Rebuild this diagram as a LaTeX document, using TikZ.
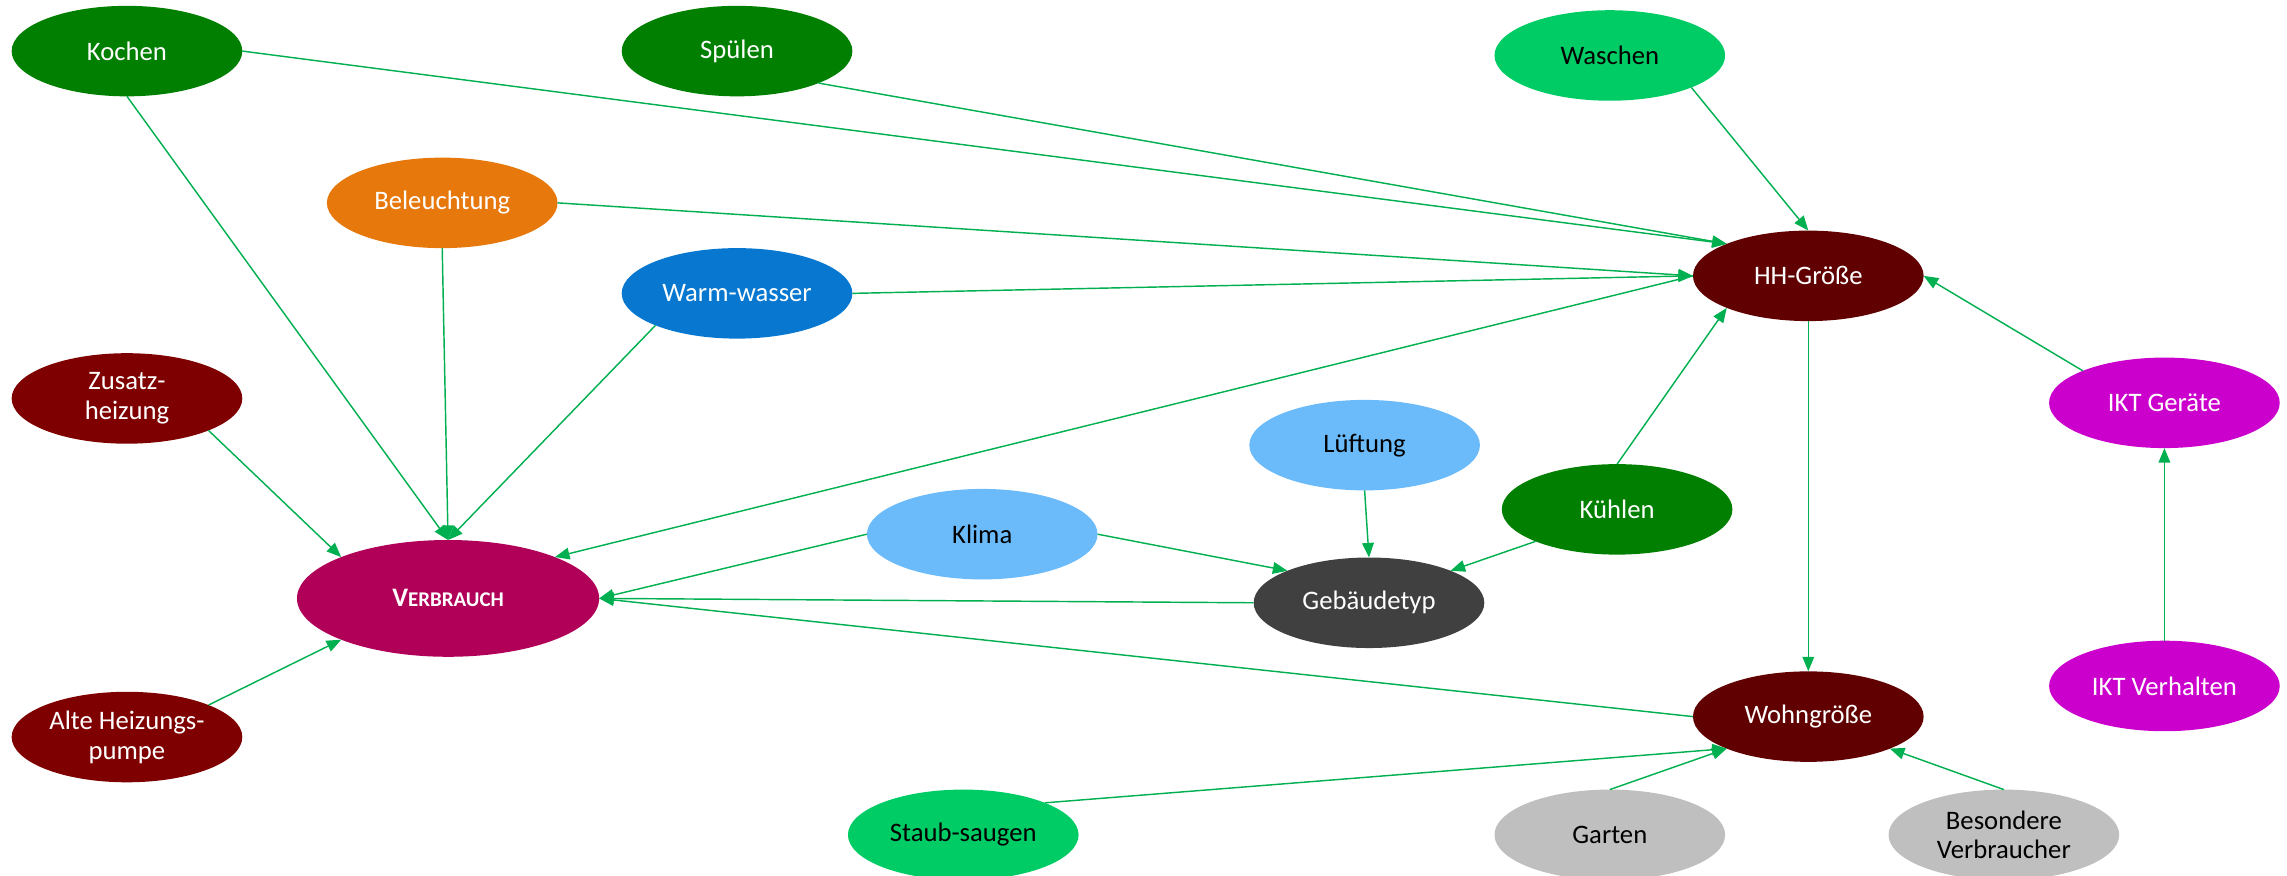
\documentclass[tikz,border=0pt]{standalone}
\usepackage{fontspec}
\setmainfont{Carlito}
\usepackage{xcolor}
\usepackage{tikz}
\usetikzlibrary{arrows.meta, positioning, shapes.geometric}

\definecolor{arrowgreen}{HTML}{00B050}
\definecolor{darkgreen}{HTML}{007F00}
\definecolor{lightgreen}{HTML}{00CC66}
\definecolor{orangeb}{HTML}{E7780B}
\definecolor{blueb}{HTML}{0777CF}
\definecolor{skyb}{HTML}{6BBBFB}
\definecolor{maroonb}{HTML}{7F0000}
\definecolor{brownb}{HTML}{600000}
\definecolor{berryb}{HTML}{B00058}
\definecolor{grayb}{HTML}{404040}
\definecolor{silverb}{HTML}{BFBFBF}
\definecolor{magentab}{HTML}{CC00CC}

\begin{document}
\begin{tikzpicture}[x=0.025cm, y=-0.025cm,
  bubble/.style={ellipse, minimum width=3.95cm, minimum height=1.55cm,
    inner sep=0pt, outer sep=0pt, align=center, text=white,
    font=\fontsize{13}{14.5}\selectfont},
  arr/.style={-{Triangle[length=0.25cm, width=0.2cm]}, draw=arrowgreen, line width=0.7pt}]
  \useasboundingbox (0,0) rectangle (1567,600);

  % Appliances and uses
  \node[bubble, fill=darkgreen] (kochen) at (87,35) {Kochen};
  \node[bubble, fill=darkgreen] (spuelen) at (505,35) {Spülen};
  \node[bubble, fill=lightgreen, text=black] (waschen) at (1103,38) {Waschen};
  \node[bubble, fill=orangeb] (licht) at (303,139) {Beleuchtung};
  \node[bubble, fill=blueb] (warmw) at (505,201) {Warm-wasser};
  \node[bubble, fill=maroonb] (zusatz) at (87,273) {Zusatz-\\heizung};
  \node[bubble, fill=skyb, text=black] (lueft) at (935,305) {Lüftung};
  \node[bubble, fill=darkgreen] (kuehl) at (1108,349) {Kühlen};
  \node[bubble, fill=skyb, text=black] (klima) at (673,366) {Klima};
  \node[bubble, fill=maroonb] (pumpe) at (87,505) {Alte Heizungs-\\pumpe};
  \node[bubble, fill=lightgreen, text=black] (staub) at (660,572) {Staub-saugen};
  \node[bubble, fill=silverb, text=black] (garten) at (1103,572) {Garten};
  \node[bubble, fill=silverb, text=black] (besond) at (1373,572) {Besondere\\Verbraucher};
  \node[bubble, fill=magentab] (iktg) at (1483,276) {IKT Geräte};
  \node[bubble, fill=magentab] (iktv) at (1483,470) {IKT Verhalten};

  % Household and building
  \node[bubble, fill=brownb] (hh) at (1239,189) {HH-Größe};
  \node[bubble, fill=brownb] (wohn) at (1239,491) {Wohngröße};
  \node[bubble, fill=grayb] (gebaeude) at (938,413) {Gebäudetyp};
  \node[bubble, fill=berryb, minimum width=5.175cm, minimum height=2cm] (verbrauch) at (307,410)
    {\bfseries V\fontsize{10.2}{12}\selectfont ERBRAUCH};

  % Influences
  \foreach \a/\b in {kochen.east/hh.north west, spuelen.south east/hh.north west,
      waschen.south east/hh.north, licht.east/hh.west, warmw.east/hh.west,
      kuehl.north/hh.south west, iktg.north west/hh.east, iktv.north/iktg.south,
      kochen.south/verbrauch.north, licht.south/verbrauch.north,
      warmw.south west/verbrauch.north, hh.west/verbrauch.north east,
      zusatz.south east/verbrauch.north west, pumpe.north east/verbrauch.south west,
      klima.west/verbrauch.east, gebaeude.west/verbrauch.east, wohn.west/verbrauch.east,
      klima.east/gebaeude.north west, lueft.south/gebaeude.north,
      kuehl.south west/gebaeude.north east, hh.south/wohn.north,
      staub.north east/wohn.south west, garten.north/wohn.south west,
      besond.north/wohn.south east}
    \draw[arr] (\a) -- (\b);

\end{tikzpicture}
\end{document}
